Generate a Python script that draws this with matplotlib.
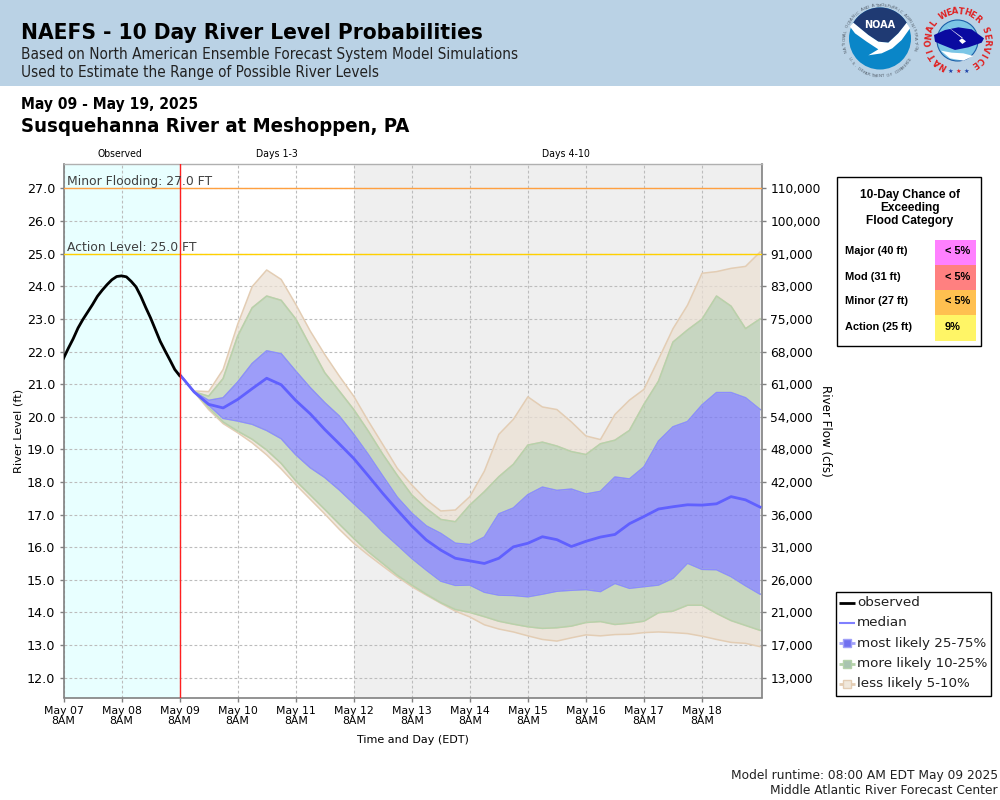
import numpy as np
import matplotlib
matplotlib.use("Agg")
import matplotlib.pyplot as plt
from matplotlib.patches import Rectangle, Circle, Polygon

observed_hours = list(range(0, 49, 2))
observed = [21.79, 22.10, 22.39, 22.72, 22.98, 23.21, 23.44, 23.69, 23.88, 24.05, 24.20, 24.30,
            24.32, 24.29, 24.15, 23.98, 23.69, 23.35, 23.03, 22.67, 22.31, 22.02, 21.74, 21.45, 21.26]

forecast_hours = list(range(48, 289, 6))
p95 = [21.30, 20.79, 20.77, 21.45, 22.83, 23.99, 24.50, 24.21, 23.45, 22.63, 21.91,
       21.25, 20.63, 19.87, 19.15, 18.42, 17.91, 17.45, 17.11, 17.14, 17.55, 18.33,
       19.46, 19.92, 20.61, 20.30, 20.22, 19.84, 19.41, 19.30, 20.07, 20.51, 20.84,
       21.76, 22.70, 23.42, 24.40, 24.45, 24.55, 24.61, 25.05]
p90 = [21.30, 20.76, 20.63, 21.17, 22.47, 23.34, 23.70, 23.57, 23.00, 22.17, 21.35,
       20.79, 20.22, 19.56, 18.85, 18.20, 17.60, 17.19, 16.85, 16.78, 17.29, 17.70,
       18.16, 18.54, 19.13, 19.22, 19.10, 18.93, 18.84, 19.17, 19.28, 19.58, 20.38,
       21.09, 22.29, 22.66, 22.99, 23.70, 23.39, 22.70, 23.00]
p75 = [21.30, 20.76, 20.50, 20.58, 21.06, 21.63, 22.02, 21.93, 21.40, 20.89, 20.43,
       20.02, 19.46, 18.84, 18.18, 17.53, 17.04, 16.65, 16.42, 16.12, 16.08, 16.31,
       17.02, 17.20, 17.61, 17.84, 17.74, 17.78, 17.63, 17.71, 18.15, 18.09, 18.46,
       19.25, 19.69, 19.85, 20.36, 20.74, 20.74, 20.58, 20.22]
median = [21.30, 20.76, 20.38, 20.27, 20.53, 20.86, 21.18, 20.98, 20.50, 20.09, 19.61,
          19.17, 18.72, 18.19, 17.65, 17.14, 16.65, 16.22, 15.91, 15.66, 15.58, 15.50,
          15.66, 16.01, 16.12, 16.32, 16.23, 16.02, 16.18, 16.31, 16.39, 16.72, 16.94,
          17.17, 17.24, 17.30, 17.29, 17.33, 17.55, 17.45, 17.23]
p25 = [21.30, 20.76, 20.36, 19.95, 19.87, 19.77, 19.58, 19.33, 18.84, 18.44, 18.14,
       17.76, 17.34, 16.93, 16.47, 16.07, 15.66, 15.30, 14.96, 14.83, 14.84, 14.62,
       14.53, 14.52, 14.48, 14.56, 14.65, 14.68, 14.70, 14.64, 14.89, 14.74, 14.79,
       14.84, 15.05, 15.51, 15.32, 15.31, 15.10, 14.82, 14.56]
p10 = [21.30, 20.76, 20.28, 19.84, 19.56, 19.31, 18.98, 18.57, 18.04, 17.60, 17.16,
       16.71, 16.27, 15.86, 15.50, 15.14, 14.84, 14.56, 14.30, 14.09, 14.00, 13.87,
       13.73, 13.64, 13.56, 13.51, 13.53, 13.58, 13.69, 13.72, 13.63, 13.67, 13.73,
       13.99, 14.04, 14.22, 14.22, 13.97, 13.75, 13.60, 13.45]
p05 = [21.30, 20.76, 20.22, 19.79, 19.51, 19.20, 18.83, 18.40, 17.92, 17.47, 17.02,
       16.55, 16.12, 15.76, 15.42, 15.09, 14.79, 14.53, 14.28, 14.04, 13.86, 13.62,
       13.49, 13.40, 13.28, 13.17, 13.12, 13.22, 13.31, 13.28, 13.32, 13.33, 13.38,
       13.40, 13.38, 13.35, 13.27, 13.17, 13.08, 13.05, 12.95]

stage_ticks = [27, 26, 25, 24, 23, 22, 21, 20, 19, 18, 17, 16, 15, 14, 13, 12]
flow_labels = ["110,000", "100,000", "91,000", "83,000", "75,000", "68,000", "61,000", "54,000",
               "48,000", "42,000", "36,000", "31,000", "26,000", "21,000", "17,000", "13,000"]
date_labels = ["May 07", "May 08", "May 09", "May 10", "May 11", "May 12",
               "May 13", "May 14", "May 15", "May 16", "May 17", "May 18"]
date_hours = list(range(0, 265, 24))
chance_rows = ["Major (40 ft)", "Mod (31 ft)", "Minor (27 ft)", "Action (25 ft)"]
chance_vals = ["< 5%", "< 5%", "< 5%", "9%"]
chance_cols = ["#FF80FF", "#FF8080", "#FFC050", "#FFF566"]

BLUE, GREEN, TAN = "#7777F8", "#B8CDB0", "#EBE0D3"
BLUE_E, GREEN_E, TAN_E = "#8C8CFF", "#B6D2AC", "#E3CDB4"

fig = plt.figure(figsize=(10, 8), dpi=100, facecolor="white")
bg = fig.add_axes([0, 0, 1, 1], zorder=0)
bg.set_xlim(0, 1000); bg.set_ylim(800, 0); bg.axis("off")
bg.add_patch(Rectangle((0, 0), 1000, 86, fc="#BAD2E5", ec="none"))

SANS = "DejaVu Sans"
COND = dict(family=SANS, stretch="condensed")
bg.text(21, 33, "NAEFS - 10 Day River Level Probabilities", fontsize=16.2, weight="bold", va="center", **COND)
bg.text(21, 54, "Based on North American Ensemble Forecast System Model Simulations", fontsize=11, va="center", color="#222222", **COND)
bg.text(21, 73, "Used to Estimate the Range of Possible River Levels", fontsize=11, va="center", color="#222222", **COND)
bg.text(21, 105, "May 09 - May 19, 2025", fontsize=11.2, weight="bold", va="center", **COND)
bg.text(21, 126, "Susquehanna River at Meshoppen, PA", fontsize=14.6, weight="bold", va="center", **COND)
bg.text(120, 154, "Observed", fontsize=7.4, ha="center", va="center", **COND)
bg.text(276.5, 154, "Days 1-3", fontsize=7.6, ha="center", va="center", **COND)
bg.text(566, 154, "Days 4-10", fontsize=7.6, ha="center", va="center", **COND)


def z(pts):
    """header-logo sketch points, given in crop units"""
    return [[835 + a / 3, b / 3] for a, b in pts]


def ring(text, cx, cy, r, a0, step, size, color, bottom=False, weight="normal"):
    for i, ch in enumerate(text):
        a = a0 + i * step
        t = np.deg2rad(a)
        rot = a + 90 if bottom else a - 90
        bg.text(cx + r * np.cos(t), cy - r * np.sin(t), ch, color=color, fontsize=size, weight=weight,
                rotation=rot, rotation_mode="anchor", ha="center", va="center", family=SANS)


# NOAA logo
nx, ny, nr = 880, 38.5, 31
bg.add_patch(Circle((nx, ny), nr, fc="#0A86C8", ec="none"))
th = np.deg2rad(np.linspace(150, 30, 40))
arc = [[nx + nr * np.cos(t), ny - nr * np.sin(t)] for t in th]
bg.add_patch(Polygon(arc + z([(190, 100), (160, 128), (130, 125), (100, 105)]), fc="#1F3A73", ec="none"))
bg.add_patch(Polygon(z([(45, 80), (55, 68), (100, 105), (130, 125), (160, 128), (190, 100), (215, 68), (225, 85),
                        (200, 120), (172, 145), (140, 160), (100, 166), (130, 148), (95, 125), (60, 100)]),
                     fc="white", ec="none"))
bg.text(nx, 25, "NOAA", color="white", fontsize=7, weight="bold", ha="center", va="center", family=SANS)
ring("NATIONAL OCEANIC AND ATMOSPHERIC ADMINISTRATION", nx, 41, 35.5, 196, -4.55, 3, "#55606C")
ring("U.S. DEPARTMENT OF COMMERCE", nx, 41, 35.5, 210, 4.6, 3, "#55606C", bottom=True)

# NWS logo
wx, wy = 957.5, 40.5
bg.add_patch(Circle((wx, wy), 20.5, fc="#7CC6E6", ec="#1B5FA8", lw=0.8))
bg.add_patch(Polygon(z([(297, 105), (330, 90), (370, 82), (410, 88), (447, 115), (440, 128), (400, 142),
                        (360, 150), (315, 132), (300, 125)]), fc="#0A0AA0", ec="none"))
bg.add_patch(Polygon(z([(318, 152), (350, 158), (385, 160), (415, 168), (385, 182), (345, 175)]), fc="white", ec="none"))
bg.add_patch(Polygon(z([(335, 78), (383, 113), (372, 122), (418, 168), (382, 132), (393, 124), (352, 92)]), fc="white", ec="none"))
ring("NATIONAL", wx, wy, 29, 241, -13.9, 6, "#E02020", weight="bold")
ring("WEATHER", wx, wy, 29, 119, -12, 6, "#E02020", weight="bold")
ring("SERVICE", wx, wy, 29, 21, -12.5, 6, "#E02020", weight="bold")
for sx, sc in zip((345, 370, 395), ("#1B3FA8", "#E02020", "#1B3FA8")):
    bg.text(835 + sx / 3, 71, "★", color=sc, fontsize=4.5, ha="center", va="center", family=SANS)

# main axes
ax = fig.add_axes([63.5 / 1000, 102.5 / 800, 698.5 / 1000, 533.5 / 800], zorder=2)
ax.set_xlim(0, 288.8)
ax.set_ylim(11.39, 27.75)
ax.axvspan(0, 48, fc="#E8FFFF", ec="none", zorder=0)
ax.axvspan(120, 288.8, fc="#EFEFEF", ec="none", zorder=0)
ax.set_axisbelow(True)
ax.grid(True, color="#BCBCBC", ls=(0, (2.5, 2)), lw=0.8)
ax.set_xticks(date_hours)
ax.set_xticklabels([d + "\n8AM" for d in date_labels], fontsize=7.8, linespacing=1.05)
ax.set_yticks(stage_ticks)
ax.set_yticklabels([f"{v:.1f}" for v in stage_ticks], fontsize=9.2)
ax.tick_params(axis="both", color="#808080", length=3, width=1, pad=3)
ax.set_ylabel("River Level (ft)", fontsize=8.2, labelpad=2)
ax.set_xlabel("Time and Day (EDT)", fontsize=8, labelpad=6)

h = np.array(forecast_hours)


def band(lo, hi, fc, ec):
    ax.fill_between(h, lo, hi, fc=fc, alpha=0.72, lw=0, zorder=2)
    ax.plot(h, lo, color=ec, lw=1.1, zorder=2.5)
    ax.plot(h, hi, color=ec, lw=1.1, zorder=2.5)


band(p90, p95, TAN, TAN_E)
band(p05, p10, TAN, TAN_E)
band(p75, p90, GREEN, GREEN_E)
band(p10, p25, GREEN, GREEN_E)
band(p25, p75, BLUE, BLUE_E)
ax.plot(h, median, color="#6060FF", lw=2, zorder=3)
ax.plot(observed_hours, observed, color="black", lw=2, zorder=4)
ax.axvline(48, color="#FF2020", lw=1, zorder=5)
ax.axhline(27, color="#FFA040", lw=1, zorder=3)
ax.axhline(25, color="#FFD000", lw=1, zorder=3)
ax.text(1.5, 27.0, "Minor Flooding: 27.0 FT", fontsize=8.9, color="#404040", va="bottom", zorder=6)
ax.text(1.5, 25.0, "Action Level: 25.0 FT", fontsize=8.9, color="#404040", va="bottom", zorder=6)
for side in ("left", "bottom", "right"):
    ax.spines[side].set_color("#808080"); ax.spines[side].set_linewidth(1.2)
ax.spines["top"].set_color("#B0B0B0"); ax.spines["top"].set_linewidth(1)

ax2 = ax.twinx()
ax2.set_ylim(ax.get_ylim())
ax2.set_yticks(stage_ticks)
ax2.set_yticklabels(flow_labels, fontsize=8.8)
ax2.tick_params(axis="y", color="#808080", length=3, width=1, pad=3)
ax2.set_ylabel("River Flow (cfs)", fontsize=8.6, rotation=270, labelpad=8)
for s in ax2.spines.values():
    s.set_visible(False)

# chance panel
pn = fig.add_axes([0, 0, 1, 1], zorder=3)
pn.set_xlim(0, 1000); pn.set_ylim(800, 0); pn.axis("off"); pn.patch.set_alpha(0)
pn.add_patch(Rectangle((836.5, 176.5), 144, 169, fc="white", ec="black", lw=1))
LS = "Liberation Sans"
for y, t in zip([195, 208, 221], ["10-Day Chance of", "Exceeding", "Flood Category"]):
    pn.text(910, y, t, fontsize=8.6, weight="bold", ha="center", va="center", family=LS)
tops = [240, 265, 290, 315]
heights = [25, 25, 25, 26]
for t, hh, r, v, c in zip(tops, heights, chance_rows, chance_vals, chance_cols):
    pn.add_patch(Rectangle((935, t), 41, hh, fc=c, ec="none"))
    pn.text(845, t + 11.5, r, fontsize=7.9, weight="bold", va="center", family=LS)
    pn.text(945, t + 11.5, v, fontsize=7.9, weight="bold", va="center", family=LS)

# legend
pn.add_patch(Rectangle((835.5, 591.5), 155.5, 104, fc="white", ec="black", lw=1))
legend_labels = ["observed", "median", "most likely 25-75%", "more likely 10-25%", "less likely 5-10%"]
legend_y = [603, 623, 643, 663.5, 684]
legend_line = ["black", "#8080FF", "#A0A0F8", "#B4D2AA", "#E3CDB4"]
legend_mark = [None, None, "#7070F0", "#A8C4B0", "#F0E8DC"]
for lab, y, lc, mc in zip(legend_labels, legend_y, legend_line, legend_mark):
    pn.plot([838.5, 854.5], [y, y], color=lc, lw=2 if mc or lc == "black" else 1.5, solid_capstyle="butt")
    if mc:
        pn.plot([846.5], [y], marker="s", ms=5.5, mfc=mc, mec=lc, mew=1)
    pn.text(857, y, lab, fontsize=9.7, va="center", color="#202020")

bg.text(998, 775, "Model runtime: 08:00 AM EDT May 09 2025", fontsize=8.8, ha="right", va="center", color="#202020")
bg.text(998, 791, "Middle Atlantic River Forecast Center", fontsize=8.8, ha="right", va="center", color="#202020")

fig.savefig("out.png", dpi=100)
